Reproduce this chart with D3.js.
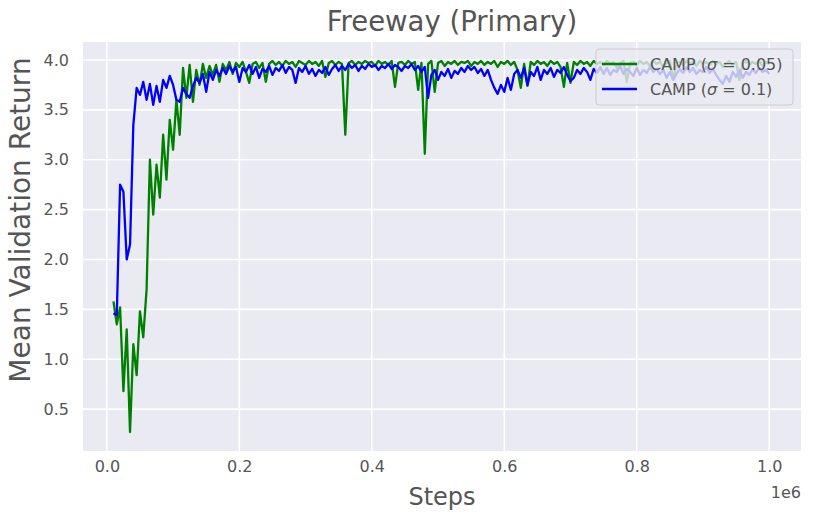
<!DOCTYPE html>
<html>
<head>
<meta charset="utf-8">
<script src="https://cdn.jsdelivr.net/npm/d3@7"></script>
<style>
  body { margin: 0; background: #fff; }
  text { font-family: "DejaVu Sans", sans-serif; fill: #555; }
</style>
</head>
<body>
<div id="chart"></div>
<script>
// logged every 5000 steps, from 10000 to 1e6 (x in units of 1e6)
var STEP_START = 0.01;
var STEP_SIZE = 0.005;

var xTicks = [0.0, 0.2, 0.4, 0.6, 0.8, 1.0];
var yTicks = [0.5, 1.0, 1.5, 2.0, 2.5, 3.0, 3.5, 4.0];

var seriesNames = ["CAMP (σ = 0.05)", "CAMP (σ = 0.1)"];
var seriesColors = ["green", "blue"];

// CAMP sigma 0.05
var camp005 = [
  1.58, 1.35, 1.52, 0.68, 1.30, 0.27, 1.15, 0.84, 1.48, 1.22,
  1.70, 3.00, 2.45, 2.95, 2.62, 3.25, 2.80, 3.40, 3.10, 3.60,
  3.25, 3.92, 3.62, 3.95, 3.58, 3.90, 3.75, 3.96, 3.82, 3.94,
  3.85, 3.95, 3.78, 3.96, 3.90, 3.98, 3.86, 3.97, 3.93, 3.98,
  3.88, 3.77, 3.96, 3.98, 3.92, 3.97, 3.78, 3.96, 3.99, 3.95,
  3.98, 3.94, 3.99, 3.96, 3.98, 3.93, 3.99, 3.97, 3.95, 3.99,
  3.96, 3.98, 3.94, 3.99, 3.83, 3.97, 3.99, 3.95, 3.98, 3.96,
  3.25, 3.97, 3.99, 3.95, 3.98, 3.96, 3.99, 3.97, 3.98, 3.94,
  3.99, 3.96, 3.98, 3.95, 3.99, 3.73, 3.97, 3.98, 3.95, 3.99,
  3.96, 3.98, 3.70, 3.97, 3.06, 3.96, 3.99, 3.68, 3.97, 3.99,
  3.94, 3.98, 3.96, 3.99, 3.95, 3.98, 3.97, 3.99, 3.94, 3.98,
  3.96, 3.99, 3.95, 3.98, 3.96, 3.99, 3.93, 3.98, 3.96, 3.99,
  3.95, 3.98, 3.90, 3.72, 3.96, 3.74, 3.98, 3.95, 3.99, 3.96,
  3.98, 3.94, 3.99, 3.96, 3.98, 3.93, 3.73, 3.97, 3.77, 3.98,
  3.95, 3.99, 3.96, 3.98, 3.94, 3.99, 3.96, 3.98, 3.95, 3.99,
  3.96, 3.98, 3.92, 3.97, 3.99, 3.78, 3.97, 3.98, 3.95, 3.99,
  3.96, 3.98, 3.94, 3.99, 3.96, 3.98, 3.93, 3.97, 3.99, 3.80,
  3.97, 3.98, 3.95, 3.99, 3.96, 3.98, 3.94, 3.99, 3.96, 3.98,
  3.95, 3.99, 3.96, 3.98, 3.93, 3.97, 3.99, 3.95, 3.98, 3.80,
  3.97, 3.99, 3.95, 3.98, 3.96, 3.99, 3.94, 3.98, 3.96
];

// CAMP sigma 0.1
var camp01 = [
  1.46, 1.44, 2.75, 2.68, 2.00, 2.15, 3.35, 3.72, 3.65, 3.78,
  3.60, 3.76, 3.55, 3.74, 3.58, 3.80, 3.72, 3.84, 3.75, 3.60,
  3.58, 3.72, 3.66, 3.62, 3.74, 3.82, 3.77, 3.86, 3.68, 3.88,
  3.80, 3.90, 3.84, 3.92, 3.86, 3.94, 3.88, 3.93, 3.78, 3.92,
  3.88, 3.95, 3.86, 3.93, 3.82, 3.91, 3.88, 3.94, 3.85, 3.92,
  3.89, 3.95, 3.87, 3.93, 3.90, 3.77, 3.92, 3.88, 3.94, 3.86,
  3.91, 3.84, 3.90, 3.87, 3.93, 3.85, 3.91, 3.95, 3.89, 3.94,
  3.90, 3.96, 3.92, 3.95, 3.89, 3.94, 3.91, 3.96, 3.93, 3.95,
  3.90, 3.94, 3.92, 3.96, 3.91, 3.95, 3.93, 3.89, 3.94, 3.92,
  3.96, 3.90, 3.94, 3.88, 3.93, 3.62, 3.85, 3.90, 3.80, 3.88,
  3.84, 3.91, 3.82, 3.89, 3.86, 3.92, 3.88, 3.94, 3.90, 3.93,
  3.87, 3.91, 3.84, 3.90, 3.80, 3.72, 3.66, 3.75, 3.68, 3.82,
  3.70, 3.86, 3.90, 3.82, 3.92, 3.75, 3.88, 3.84, 3.93, 3.80,
  3.90, 3.86, 3.92, 3.83, 3.90, 3.87, 3.93, 3.85, 3.79, 3.82,
  3.90, 3.86, 3.92, 3.88, 3.80, 3.91, 3.87, 3.93, 3.86, 3.92,
  3.85, 3.90, 3.88, 3.94, 3.86, 3.91, 3.88, 3.84, 3.92, 3.85,
  3.90, 3.87, 3.93, 3.88, 3.91, 3.86, 3.90, 3.82, 3.88, 3.80,
  3.86, 3.91, 3.87, 3.93, 3.88, 3.92, 3.86, 3.90, 3.88, 3.93,
  3.87, 3.91, 3.85, 3.80, 3.76, 3.84, 3.78, 3.88, 3.83, 3.90,
  3.82, 3.88, 3.85, 3.91, 3.87, 3.92, 3.88, 3.90, 3.86
];

var width = 813, height = 522;
var plot = {left: 83, right: 801, top: 42, bottom: 451};

var svg = d3.select("#chart").append("svg")
  .attr("width", width).attr("height", height);

var x = d3.scaleLinear().domain([-0.036, 1.048]).range([plot.left, plot.right]);
var y = d3.scaleLinear().domain([0.08, 4.18]).range([plot.bottom, plot.top]);

// background
svg.append("rect")
  .attr("x", plot.left).attr("y", plot.top)
  .attr("width", plot.right - plot.left).attr("height", plot.bottom - plot.top)
  .attr("fill", "#eaeaf2");

// grid
svg.append("g").selectAll("line").data(xTicks).enter().append("line")
  .attr("x1", function(d) { return x(d); }).attr("x2", function(d) { return x(d); })
  .attr("y1", plot.top).attr("y2", plot.bottom)
  .attr("stroke", "#fff").attr("stroke-width", 1.6);
svg.append("g").selectAll("line").data(yTicks).enter().append("line")
  .attr("y1", function(d) { return y(d); }).attr("y2", function(d) { return y(d); })
  .attr("x1", plot.left).attr("x2", plot.right)
  .attr("stroke", "#fff").attr("stroke-width", 1.6);

// axes (labels only, no ticks/spines)
svg.append("g")
  .attr("transform", "translate(0," + (plot.bottom + 4) + ")")
  .call(d3.axisBottom(x).tickValues(xTicks).tickFormat(d3.format(".1f")).tickSize(0).tickPadding(6));
svg.append("g")
  .attr("transform", "translate(" + (plot.left - 4) + ",0)")
  .call(d3.axisLeft(y).tickValues(yTicks).tickFormat(d3.format(".1f")).tickSize(0).tickPadding(10));
svg.selectAll(".domain").remove();
svg.selectAll(".tick text").attr("font-size", 16).attr("fill", "#555")
  .style("font-family", "DejaVu Sans");

// lines
var line = d3.line()
  .x(function(d, i) { return x(STEP_START + i * STEP_SIZE); })
  .y(function(d) { return y(d); });

svg.append("clipPath").attr("id", "clip").append("rect")
  .attr("x", plot.left).attr("y", plot.top)
  .attr("width", plot.right - plot.left).attr("height", plot.bottom - plot.top);

var lines = svg.append("g").attr("clip-path", "url(#clip)");
[camp005, camp01].forEach(function(s, k) {
  lines.append("path")
    .datum(s)
    .attr("d", line)
    .attr("fill", "none")
    .attr("stroke", seriesColors[k])
    .attr("stroke-width", 2.3)
    .attr("stroke-linejoin", "round");
});

// titles
svg.append("text")
  .attr("x", 452).attr("y", 31)
  .attr("text-anchor", "middle").attr("font-size", 27.5)
  .text("Freeway (Primary)");
svg.append("text")
  .attr("x", 442).attr("y", 505)
  .attr("text-anchor", "middle").attr("font-size", 24)
  .text("Steps");
svg.append("text")
  .attr("transform", "translate(30,220) rotate(-90)")
  .attr("text-anchor", "middle").attr("font-size", 28)
  .text("Mean Validation Return");
svg.append("text")
  .attr("x", 801).attr("y", 498)
  .attr("text-anchor", "end").attr("font-size", 16)
  .text("1e6");

// legend
var legend = svg.append("g");
legend.append("rect")
  .attr("x", 596).attr("y", 49).attr("width", 197).attr("height", 56)
  .attr("rx", 3)
  .attr("fill", "#eaeaf2").attr("fill-opacity", 0.8)
  .attr("stroke", "#cccccc").attr("stroke-width", 1);
seriesNames.forEach(function(name, k) {
  var ly = 64 + k * 25;
  legend.append("line")
    .attr("x1", 602).attr("x2", 637).attr("y1", ly).attr("y2", ly)
    .attr("stroke", seriesColors[k]).attr("stroke-width", 2.3);
  var t = legend.append("text")
    .attr("x", 650).attr("y", ly + 6).attr("font-size", 16);
  var parts = name.split("σ");
  t.append("tspan").text(parts[0]);
  t.append("tspan").attr("font-style", "italic").text("σ");
  t.append("tspan").text(parts[1]);
});
</script>
</body>
</html>
